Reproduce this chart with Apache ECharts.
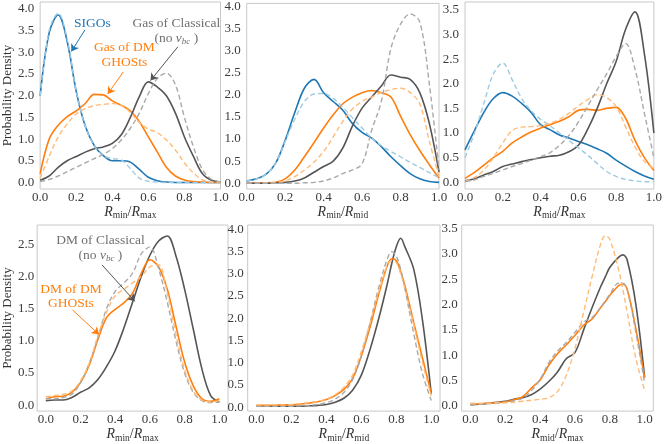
<!DOCTYPE html>
<html>
<head>
<meta charset="utf-8">
<script src="https://cdn.jsdelivr.net/npm/echarts@6/dist/echarts.min.js"></script>
<style>
  html, body { margin: 0; padding: 0; background: #fff; }
  #chart { width: 665px; height: 444px; }
</style>
</head>
<body>
<div id="chart"></div>
<script>
// ---- data ----
var xStep = [0, 0.05, 0.1, 0.15, 0.2, 0.25, 0.3, 0.35, 0.4, 0.45, 0.5, 0.55, 0.6, 0.65, 0.7, 0.75, 0.8, 0.85, 0.9, 0.95, 1.0]
var xFine5 = [0, 0.05, 0.1, 0.15, 0.2, 0.25, 0.3, 0.35, 0.4, 0.45, 0.5, 0.55, 0.6, 0.65, 0.7, 0.75, 0.775, 0.8, 0.825, 0.85, 0.9, 0.95, 1.0]
var xFine6 = [0, 0.05, 0.1, 0.15, 0.2, 0.25, 0.3, 0.35, 0.4, 0.45, 0.5, 0.55, 0.6, 0.65, 0.7, 0.75, 0.775, 0.8, 0.85, 0.875, 0.9, 0.95, 1.0]
var xTicks = [0, 0.2, 0.4, 0.6, 0.8, 1.0]
var yTicks40 = [0, 0.5, 1.0, 1.5, 2.0, 2.5, 3.0, 3.5, 4.0]
var yTicks35 = [0, 0.5, 1.0, 1.5, 2.0, 2.5, 3.0, 3.5]
var yTicks25 = [0, 0.5, 1.0, 1.5, 2.0, 2.5]

// panel 1: gas Rmin/Rmax
var p1SigoS = [2.0, 3.45, 3.86, 3.25, 2.1, 1.3, 0.85, 0.62, 0.5, 0.5, 0.47, 0.3, 0.12, 0.04, 0.01, 0, 0, 0, 0, 0, 0]
var p1SigoD = [2.0, 3.5, 3.9, 3.3, 2.1, 1.3, 0.85, 0.62, 0.55, 0.52, 0.32, 0.1, 0.03, 0.01, 0, 0, 0, 0, 0, 0, 0]
var p1GhostS = [0.2, 1.0, 1.32, 1.52, 1.65, 1.82, 2.03, 2.02, 1.88, 1.78, 1.65, 1.4, 1.05, 0.7, 0.35, 0.15, 0.06, 0.02, 0.01, 0, 0]
var p1GhostD = [0.1, 0.6, 1.05, 1.35, 1.58, 1.7, 1.77, 1.8, 1.82, 1.78, 1.62, 1.38, 1.23, 1.15, 0.98, 0.75, 0.45, 0.22, 0.06, 0.02, 0]
var p1ClassS = [0.05, 0.15, 0.35, 0.5, 0.6, 0.7, 0.78, 0.82, 0.9, 1.1, 1.5, 1.98, 2.32, 2.2, 2.0, 1.6, 1.05, 0.6, 0.2, 0.05, 0.01]
var p1ClassD = [0.02, 0.07, 0.15, 0.25, 0.35, 0.45, 0.55, 0.65, 0.78, 0.98, 1.25, 1.6, 2.05, 2.4, 2.52, 2.25, 1.5, 0.82, 0.3, 0.07, 0.01]

// panel 2: gas Rmin/Rmid
var p2SigoS = [0.05, 0.1, 0.2, 0.45, 0.97, 1.6, 2.15, 2.35, 2.05, 1.85, 1.65, 1.35, 1.15, 1.02, 0.83, 0.6, 0.4, 0.22, 0.1, 0.04, 0.02]
var p2SigoD = [0.05, 0.1, 0.2, 0.45, 0.95, 1.45, 1.85, 2.02, 2.03, 1.92, 1.72, 1.48, 1.25, 1.02, 0.85, 0.72, 0.6, 0.47, 0.36, 0.24, 0.13]
var p2GhostS = [0, 0, 0.01, 0.02, 0.1, 0.3, 0.6, 0.92, 1.25, 1.55, 1.8, 1.95, 2.05, 2.1, 2.05, 1.95, 1.52, 1.1, 0.74, 0.42, 0.12]
var p2GhostD = [0, 0, 0.01, 0.02, 0.05, 0.15, 0.3, 0.48, 0.72, 1.05, 1.4, 1.68, 1.85, 1.95, 2.05, 2.12, 2.15, 2.05, 1.8, 0.95, 0.15]
var p2ClassS = [0, 0, 0, 0.01, 0.02, 0.05, 0.12, 0.25, 0.38, 0.5, 0.8, 1.3, 1.7, 1.95, 2.2, 2.45, 2.4, 2.35, 2.05, 1.35, 0.25]
var p2ClassD = [0, 0, 0, 0, 0, 0, 0.01, 0.02, 0.05, 0.12, 0.22, 0.3, 0.44, 1.2, 1.85, 3.05, 3.6, 3.83, 3.65, 2.24, 0.3]

// panel 3: gas Rmid/Rmax
var p3SigoS = [0.66, 1.05, 1.42, 1.7, 1.82, 1.75, 1.6, 1.42, 1.17, 1.07, 0.96, 0.9, 0.83, 0.76, 0.68, 0.59, 0.45, 0.33, 0.22, 0.13, 0.06]
var p3SigoD = [0.5, 1.0, 1.6, 2.2, 2.42, 2.08, 1.7, 1.45, 1.28, 1.15, 1.0, 0.85, 0.7, 0.55, 0.38, 0.22, 0.12, 0.06, 0.03, 0.01, 0.01]
var p3GhostS = [0.08, 0.2, 0.35, 0.5, 0.63, 0.8, 0.92, 1.02, 1.1, 1.17, 1.24, 1.33, 1.46, 1.48, 1.46, 1.5, 1.52, 1.3, 0.85, 0.5, 0.24]
var p3GhostD = [0.02, 0.1, 0.25, 0.5, 0.8, 1.05, 1.12, 1.13, 1.15, 1.2, 1.28, 1.4, 1.55, 1.68, 1.78, 1.72, 1.54, 1.13, 0.72, 0.42, 0.28]
var p3ClassS = [0.03, 0.07, 0.15, 0.22, 0.32, 0.37, 0.42, 0.46, 0.5, 0.53, 0.55, 0.62, 0.75, 1.08, 1.5, 2.0, 2.45, 3.1, 3.46, 2.6, 1.0]
var p3ClassD = [0.01, 0.05, 0.12, 0.18, 0.25, 0.32, 0.38, 0.45, 0.52, 0.6, 0.75, 0.95, 1.22, 1.55, 1.88, 2.2, 2.55, 2.82, 2.3, 1.4, 0.5]

// panel 4: DM Rmin/Rmax
var p4ClassS = [0.07, 0.08, 0.08, 0.12, 0.2, 0.27, 0.4, 0.6, 0.85, 1.2, 1.6, 2.0, 2.33, 2.55, 2.63, 2.32, 1.8, 1.18, 0.56, 0.15, 0.05]
var p4ClassD = [0.1, 0.1, 0.12, 0.17, 0.35, 0.65, 1.05, 1.5, 1.77, 1.9, 2.05, 2.35, 2.46, 2.12, 1.6, 1.0, 0.5, 0.2, 0.07, 0.04, 0.05]
var p4GhostS = [0.1, 0.13, 0.14, 0.2, 0.35, 0.62, 1.02, 1.36, 1.49, 1.59, 1.74, 2.05, 2.26, 2.15, 1.8, 1.23, 0.67, 0.3, 0.1, 0.06, 0.1]
var p4GhostD = [0.13, 0.15, 0.17, 0.22, 0.38, 0.65, 1.08, 1.45, 1.7, 1.8, 1.9, 2.0, 2.15, 2.18, 1.74, 1.1, 0.55, 0.22, 0.08, 0.05, 0.07]

// panel 5: DM Rmin/Rmid
var p5ClassS = [0.02, 0.03, 0.02, 0.02, 0.02, 0.02, 0.03, 0.04, 0.06, 0.11, 0.2, 0.38, 0.72, 1.3, 2.0, 2.8, 3.25, 3.61, 3.8, 3.6, 3.1, 1.95, 0.3]
var p5ClassD = [0.02, 0.02, 0.02, 0.02, 0.02, 0.03, 0.04, 0.06, 0.1, 0.18, 0.33, 0.62, 1.15, 1.9, 2.7, 3.35, 3.5, 3.4, 3.1, 2.65, 1.65, 0.75, 0.15]
var p5GhostS = [0.04, 0.04, 0.04, 0.05, 0.05, 0.07, 0.09, 0.12, 0.17, 0.26, 0.4, 0.65, 1.15, 1.8, 2.55, 3.2, 3.34, 3.3, 3.05, 2.72, 1.9, 1.1, 0.3]
var p5GhostD = [0.05, 0.05, 0.05, 0.05, 0.06, 0.08, 0.1, 0.13, 0.18, 0.28, 0.45, 0.72, 1.25, 1.9, 2.6, 3.2, 3.3, 3.25, 3.0, 2.65, 1.85, 1.0, 0.25]

// panel 6: DM Rmid/Rmax
var p6ClassS = [0.02, 0.03, 0.05, 0.07, 0.09, 0.13, 0.16, 0.22, 0.33, 0.48, 0.67, 0.93, 1.05, 1.5, 1.95, 2.37, 2.55, 2.73, 2.93, 2.98, 2.88, 2.0, 0.57]
var p6ClassD = [0.03, 0.03, 0.04, 0.05, 0.07, 0.1, 0.15, 0.3, 0.52, 0.85, 1.08, 1.25, 1.45, 1.65, 1.75, 1.95, 2.08, 2.2, 2.42, 2.42, 2.3, 1.45, 0.45]
var p6GhostS = [0.02, 0.04, 0.05, 0.06, 0.08, 0.12, 0.18, 0.35, 0.51, 0.8, 1.03, 1.2, 1.39, 1.59, 1.72, 1.95, 2.06, 2.18, 2.37, 2.4, 2.3, 1.52, 0.55]
var p6GhostD = [0.05, 0.05, 0.05, 0.06, 0.06, 0.07, 0.09, 0.11, 0.13, 0.16, 0.28, 0.6, 1.13, 1.85, 2.57, 3.22, 3.36, 3.29, 2.7, 2.3, 1.85, 0.93, 0.31]

// ---- styling ----
var FONT = 'Liberation Serif'
var blue = '#1f77b4', blueL = '#9ecae1'
var orange = '#ff7f0e', orangeL = '#ffbb78'
var gray = '#555555', grayL = '#a9a9a9'
var grayText = '#707070'

var nameRich = {
  i: { fontFamily: FONT, fontSize: 14, fontStyle: 'italic', color: '#333' },
  s: { fontFamily: FONT, fontSize: 9.5, color: '#333', padding: [8, 0, 0, 0] },
  n: { fontFamily: FONT, fontSize: 14, color: '#333' }
}

function ratioName (a, b) {
  return '{i|R}{s|' + a + '}{n|/}{i|R}{s|' + b + '}'
}

function pairs (xs, ys) {
  return xs.map(function (x, k) { return [x, ys[k]] })
}

function curve (idx, xs, ys, color, dashed) {
  return {
    type: 'line',
    xAxisIndex: idx,
    yAxisIndex: idx,
    data: pairs(xs, ys),
    smooth: 0.35,
    showSymbol: false,
    symbol: 'none',
    silent: true,
    z: dashed ? 3 : 2,
    lineStyle: {
      color: color,
      width: dashed ? 1.4 : 1.6,
      type: dashed ? [5, 3] : 'solid'
    }
  }
}

// arrow from the label towards the curve, in data coordinates
function arrow (s, from, to, color) {
  s.markLine = {
    silent: true,
    symbol: ['none', 'arrow'],
    symbolSize: 7,
    label: { show: false },
    lineStyle: { color: color, width: 1, type: 'solid' },
    data: [[{ coord: from }, { coord: to }]]
  }
  return s
}

// annotation texts: [panel, x, y, lines, colour]  (x,y = centre of the text block)
var notes = [
  [0, 0.29, 3.66, ['SIGOs'], blue],
  [0, 0.467, 2.94, ['Gas of DM', 'GHOSts'], orange],
  [0, 0.755, 3.49, ['Gas of Classical', '(no {v|v}{b|bc} )'], grayText],
  [3, 0.315, 2.44, ['DM of Classical', '(no {v|v}{b|bc} )'], grayText],
  [3, 0.145, 1.69, ['DM of DM', 'GHOSts'], orange]
]

var panels = [
  { grid: { left: 29, top: 2, width: 191.5, height: 187 }, xr: [0, 1], yr: [-0.15, 4.16], yt: yTicks40, name: ratioName('min', 'max'), lm: 6, ylab: true },
  { grid: { left: 246.7, top: 2, width: 192.3, height: 187 }, xr: [0, 1], yr: [-0.13, 4.07], yt: yTicks40, name: ratioName('min', 'mid'), lm: 6 },
  { grid: { left: 465, top: 2, width: 192, height: 187 }, xr: [0, 1], yr: [-0.136, 3.66], yt: yTicks35, name: ratioName('mid', 'max'), lm: 6 },
  { grid: { left: 34, top: 225, width: 194, height: 188 }, xr: [-0.05, 1.05], yr: [-0.092, 2.8], yt: yTicks25, name: ratioName('min', 'max'), lm: 3, ylab: true },
  { grid: { left: 247.7, top: 225, width: 192.3, height: 188 }, xr: [-0.05, 1.05], yr: [-0.089, 4.098], yt: yTicks40, name: ratioName('min', 'mid'), lm: 4 },
  { grid: { left: 461.7, top: 225, width: 191.6, height: 188 }, xr: [-0.05, 1.05], yr: [-0.104, 3.57], yt: yTicks35, name: ratioName('mid', 'max'), lm: 4 }
]

var grids = [], xAxes = [], yAxes = []
panels.forEach(function (p, k) {
  grids.push(Object.assign({ show: true, borderColor: '#c8c8c8', borderWidth: 1, backgroundColor: '#fff' }, p.grid))
  xAxes.push({
    type: 'value', gridIndex: k, min: p.xr[0], max: p.xr[1],
    axisLine: { show: false }, axisTick: { show: false }, splitLine: { show: false },
    axisLabel: { customValues: xTicks, formatter: function (v) { return v.toFixed(1) }, fontFamily: FONT, fontSize: 13, color: '#3a3a3a', margin: 2 },
    name: p.name, nameLocation: 'middle', nameGap: 13,
    nameTextStyle: { rich: nameRich }
  })
  yAxes.push({
    type: 'value', gridIndex: k, min: p.yr[0], max: p.yr[1],
    axisLine: { show: false }, axisTick: { show: false }, splitLine: { show: false },
    axisLabel: { customValues: p.yt, formatter: function (v) { return v.toFixed(1) }, fontFamily: FONT, fontSize: 13, color: '#3a3a3a', margin: p.lm },
    name: p.ylab ? 'Probability Density' : '', nameLocation: 'middle', nameGap: p.lm + 16,
    nameTextStyle: { fontFamily: FONT, fontSize: 13, color: '#333' }
  })
})

var series = [
  arrow(curve(0, xStep, p1SigoS, blue, false), [0.249, 3.52], [0.173, 3.02], blue),
  curve(0, xStep, p1SigoD, blueL, true),
  arrow(curve(0, xStep, p1GhostS, orange, false), [0.461, 2.55], [0.375, 2.04], orange),
  curve(0, xStep, p1GhostD, orangeL, true),
  arrow(curve(0, xStep, p1ClassS, gray, false), [0.764, 3.13], [0.612, 2.35], gray),
  curve(0, xStep, p1ClassD, grayL, true),

  curve(1, xStep, p2SigoS, blue, false),
  curve(1, xStep, p2SigoD, blueL, true),
  curve(1, xStep, p2GhostS, orange, false),
  curve(1, xStep, p2GhostD, orangeL, true),
  curve(1, xStep, p2ClassS, gray, false),
  curve(1, xStep, p2ClassD, grayL, true),

  curve(2, xStep, p3SigoS, blue, false),
  curve(2, xStep, p3SigoD, blueL, true),
  curve(2, xStep, p3GhostS, orange, false),
  curve(2, xStep, p3GhostD, orangeL, true),
  curve(2, xStep, p3ClassS, gray, false),
  curve(2, xStep, p3ClassD, grayL, true),

  arrow(curve(3, xStep, p4ClassS, gray, false), [0.324, 2.18], [0.513, 1.615], gray),
  curve(3, xStep, p4ClassD, grayL, true),
  arrow(curve(3, xStep, p4GhostS, orange, false), [0.154, 1.48], [0.306, 1.10], orange),
  curve(3, xStep, p4GhostD, orangeL, true),

  curve(4, xFine5, p5ClassS, gray, false),
  curve(4, xFine5, p5ClassD, grayL, true),
  curve(4, xFine5, p5GhostS, orange, false),
  curve(4, xFine5, p5GhostD, orangeL, true),

  curve(5, xFine6, p6ClassS, gray, false),
  curve(5, xFine6, p6ClassD, grayL, true),
  curve(5, xFine6, p6GhostS, orange, false),
  curve(5, xFine6, p6GhostD, orangeL, true)
]

var option = {
  animation: false,
  backgroundColor: '#ffffff',
  grid: grids,
  xAxis: xAxes,
  yAxis: yAxes,
  series: series
}

var myChart = echarts.init(document.getElementById('chart'), null, { renderer: 'canvas' })
myChart.setOption(option)

// annotation texts: one text element per line, each centred by measured width
var NOTE_SIZE = 13.5, NOTE_LH = 14.5
var ctx = document.createElement('canvas').getContext('2d')
function lineWidth (line) {
  var w = 0
  line.split(/(\{[vb]\|[^}]*\})/).forEach(function (part) {
    if (!part) return
    var m = part.match(/^\{([vb])\|([^}]*)\}$/)
    if (m) {
      ctx.font = 'italic ' + (m[1] === 'b' ? 9 : NOTE_SIZE) + 'px "' + FONT + '"'
      w += ctx.measureText(m[2]).width
    } else {
      ctx.font = NOTE_SIZE + 'px "' + FONT + '"'
      w += ctx.measureText(part).width
    }
  })
  return w
}

var graphics = []
notes.forEach(function (n) {
  var pt = myChart.convertToPixel({ gridIndex: n[0] }, [n[1], n[2]])
  var lines = n[3]
  var y0 = pt[1] - (lines.length - 1) * NOTE_LH / 2
  lines.forEach(function (line, j) {
    var w = lineWidth(line)
    graphics.push({
      type: 'text',
      x: pt[0] - w / 2,
      y: y0 + j * NOTE_LH,
      z: 10,
      silent: true,
      style: {
        text: line,
        fill: n[4],
        fontFamily: FONT,
        fontSize: NOTE_SIZE,
        align: 'left',
        verticalAlign: 'middle',
        rich: {
          v: { fill: n[4], fontFamily: FONT, fontSize: NOTE_SIZE, fontStyle: 'italic' },
          b: { fill: n[4], fontFamily: FONT, fontSize: 9, fontStyle: 'italic', padding: [7, 0, 0, 0] }
        }
      }
    })
  })
})
myChart.setOption({ graphic: graphics })
</script>
</body>
</html>
